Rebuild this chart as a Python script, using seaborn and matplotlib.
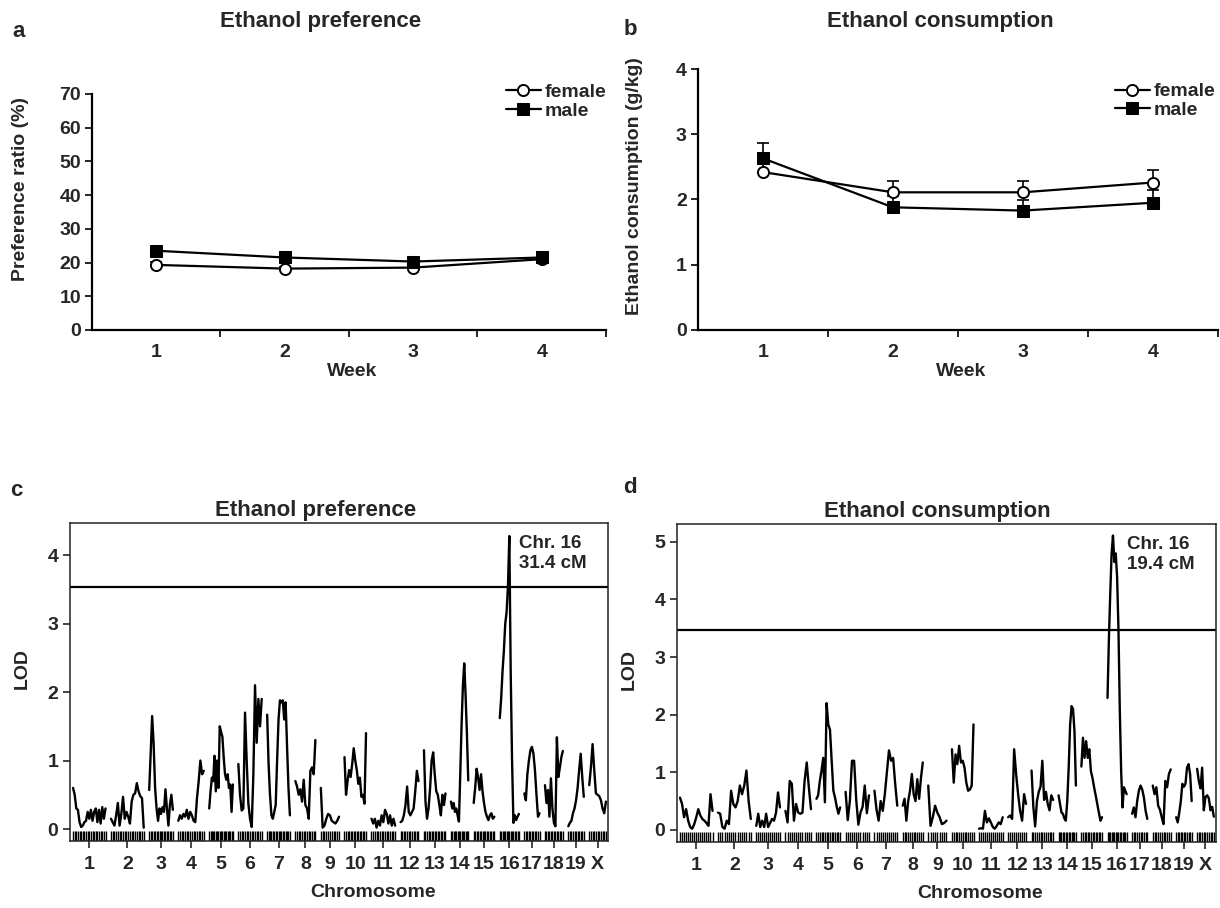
import numpy as np
import pandas as pd
import matplotlib
matplotlib.use('Agg')
import matplotlib.pyplot as plt
import seaborn as sns

# ---------- STYLE ----------
sns.set_style('ticks')
plt.rcParams['font.family'] = ['Liberation Sans', 'DejaVu Sans']
plt.rcParams['font.weight'] = 'bold'
plt.rcParams['axes.labelweight'] = 'bold'

# ---------- DATA: weekly drinking ----------
weeks = [1, 2, 3, 4]
pref_female = [19.3, 18.2, 18.5, 21.0]
pref_male = [23.5, 21.5, 20.3, 21.5]
pref_female_err = [0.8, 0.6, 0.6, 0.9]
pref_male_err = [1.0, 0.8, 0.7, 1.2]

cons_female = [2.42, 2.11, 2.11, 2.26]
cons_male = [2.63, 1.88, 1.83, 1.95]
cons_female_err = [0.15, 0.17, 0.18, 0.19]
cons_male_err = [0.24, 0.17, 0.16, 0.19]

# ---------- DATA: genome scans ----------
chrom_names = ['1', '2', '3', '4', '5', '6', '7', '8', '9', '10',
               '11', '12', '13', '14', '15', '16', '17', '18', '19', 'X']
chrom_len = [107, 108, 78, 84, 78, 77, 75, 66, 60, 71,
             78, 59, 71, 57, 68, 63, 50, 59, 51, 55]  # cM
gap = 18

lod_pref = [
    [0.6, 0.5, 0.3, 0.28, 0.1, 0.03, 0.05, 0.1, 0.12, 0.25, 0.15, 0.28, 0.12, 0.25, 0.3, 0.1, 0.28, 0.08, 0.32, 0.15, 0.3],
    [0.15, 0.1, 0.05, 0.2, 0.38, 0.05, 0.22, 0.47, 0.15, 0.25, 0.18, 0.08, 0.4, 0.5, 0.52, 0.67, 0.55, 0.48, 0.45, 0.02],
    [0.57, 1.1, 1.65, 1.25, 0.6, 0.3, 0.12, 0.3, 0.22, 0.32, 0.25, 0.58, 0.3, 0.05, 0.35, 0.5, 0.28],
    [0.12, 0.2, 0.15, 0.22, 0.18, 0.28, 0.15, 0.25, 0.2, 0.12, 0.1, 0.45, 0.7, 1.0, 0.8, 0.85],
    [0.3, 0.55, 0.75, 0.7, 1.07, 0.55, 1.0, 0.6, 1.5, 1.42, 1.35, 1.05, 0.8, 0.72, 0.8, 0.6, 0.65, 0.25, 0.65],
    [0.95, 0.5, 0.27, 0.3, 1.7, 1.0, 0.37, 0.15, 0.03, 0.8, 2.1, 1.26, 1.9, 1.5, 1.9],
    [1.67, 0.95, 0.5, 0.2, 0.15, 0.25, 0.35, 1.0, 1.6, 1.88, 1.85, 1.88, 1.6, 1.85, 1.2, 0.6, 0.2],
    [0.7, 0.62, 0.5, 0.58, 0.4, 0.72, 0.35, 0.3, 0.15, 0.85, 0.9, 0.8, 1.3],
    [0.6, 0.02, 0.05, 0.15, 0.22, 0.2, 0.12, 0.1, 0.08, 0.12, 0.18],
    [1.05, 0.5, 0.7, 0.86, 0.76, 0.95, 1.18, 1.0, 0.86, 0.66, 0.75, 0.47, 0.5, 0.37, 1.4],
    [0.15, 0.08, 0.15, 0.02, 0.12, 0.05, 0.2, 0.1, 0.28, 0.22, 0.08, 0.2, 0.05, 0.15, 0.05],
    [0.1, 0.12, 0.2, 0.35, 0.62, 0.25, 0.2, 0.25, 0.3, 0.55, 0.85, 0.7],
    [1.15, 0.4, 0.15, 0.3, 0.6, 1.0, 1.12, 0.8, 0.55, 0.5, 0.35, 0.2, 0.5, 0.35, 0.52],
    [0.4, 0.3, 0.38, 0.25, 0.3, 0.2, 0.11, 0.8, 1.53, 2.1, 2.42, 1.96, 1.4, 0.71],
    [0.38, 0.6, 0.88, 0.75, 0.57, 0.8, 0.55, 0.38, 0.25, 0.18, 0.13, 0.2, 0.23, 0.15, 0.18],
    [1.62, 1.9, 2.3, 2.6, 3.0, 3.17, 3.55, 4.28, 2.3, 1.0, 0.09, 0.2, 0.13, 0.18, 0.22],
    [0.52, 0.42, 0.8, 1.0, 1.15, 1.2, 1.1, 0.86, 0.5, 0.18, 0.23],
    [0.64, 0.38, 0.57, 0.18, 0.74, 0.3, 0.09, 0.04, 1.34, 0.76, 0.9, 1.05, 1.14],
    [0.04, 0.09, 0.12, 0.23, 0.3, 0.42, 0.6, 0.86, 1.1, 0.76, 0.47],
    [0.64, 0.9, 1.24, 0.86, 0.52, 0.5, 0.48, 0.42, 0.3, 0.23, 0.4],
]

lod_cons = [
    [0.56, 0.45, 0.22, 0.36, 0.16, 0.05, 0.02, 0.1, 0.22, 0.36, 0.25, 0.19, 0.16, 0.12, 0.07, 0.62, 0.33],
    [0.3, 0.28, 0.05, 0.02, 0.16, 0.1, 0.68, 0.45, 0.39, 0.5, 0.77, 0.62, 0.77, 1.03, 0.5, 0.19],
    [0.07, 0.28, 0.05, 0.16, 0.05, 0.28, 0.05, 0.12, 0.19, 0.16, 0.3, 0.65, 0.39],
    [0.33, 0.13, 0.85, 0.8, 0.16, 0.45, 0.3, 0.28, 0.3, 0.85, 1.17, 0.74, 0.36],
    [0.54, 0.6, 0.85, 1.03, 1.25, 0.48, 2.2, 1.83, 1.74, 1.2, 0.68, 0.56, 0.4, 0.28, 0.39],
    [0.66, 0.17, 0.5, 1.2, 1.2, 0.52, 0.09, 0.3, 0.4, 0.77, 0.29, 0.6],
    [0.68, 0.35, 0.16, 0.5, 0.33, 0.62, 1.0, 1.38, 1.2, 1.25, 0.8, 0.42],
    [0.42, 0.54, 0.16, 0.5, 0.68, 0.97, 0.62, 0.5, 0.88, 0.54, 0.9, 1.17],
    [0.77, 0.07, 0.22, 0.42, 0.3, 0.22, 0.1, 0.12, 0.16],
    [1.4, 0.82, 1.31, 1.14, 1.46, 1.17, 1.2, 1.08, 0.82, 0.68, 0.7, 0.77, 1.83],
    [0.02, 0.03, 0.02, 0.33, 0.13, 0.2, 0.13, 0.05, 0.02, 0.07, 0.13, 0.1, 0.22],
    [0.22, 0.25, 0.19, 1.4, 0.97, 0.62, 0.33, 0.16, 0.62, 0.45],
    [1.03, 0.4, 0.06, 0.5, 0.66, 0.75, 1.2, 0.52, 0.66, 0.45, 0.34, 0.6, 0.52],
    [0.6, 0.45, 0.3, 0.28, 0.2, 0.16, 0.5, 1.08, 1.83, 2.15, 2.1, 1.72, 0.77],
    [1.1, 1.6, 1.25, 1.54, 1.25, 1.4, 1.02, 0.9, 0.74, 0.6, 0.45, 0.3, 0.16, 0.22],
    [2.29, 3.3, 4.1, 4.8, 5.11, 4.65, 4.8, 4.4, 3.5, 2.06, 1.0, 0.39, 0.74, 0.68, 0.62],
    [0.28, 0.39, 0.22, 0.5, 0.68, 0.77, 0.7, 0.56, 0.33, 0.19],
    [0.77, 0.62, 0.74, 0.42, 0.35, 0.22, 0.1, 0.85, 0.74, 0.97, 1.05],
    [0.22, 0.13, 0.3, 0.5, 0.8, 0.75, 0.8, 1.08, 1.14, 0.97, 0.5],
    [1.06, 0.85, 0.72, 1.08, 0.34, 0.57, 0.6, 0.55, 0.34, 0.4, 0.23],
]

threshold_pref = 3.54
threshold_cons = 3.47

# chromosome start positions on the concatenated axis
chrom_start = np.concatenate([[0], np.cumsum(np.array(chrom_len[:-1]) + gap)])
chrom_mid = chrom_start + np.array(chrom_len) / 2
genome_end = chrom_start[-1] + chrom_len[-1]


def scan_frame(lods):
    rows = []
    for name, start, length, vals in zip(chrom_names, chrom_start, chrom_len, lods):
        pos = start + np.linspace(0, length, len(vals))
        for p, v in zip(pos, vals):
            rows.append((name, p, v))
    return pd.DataFrame(rows, columns=['chrom', 'pos', 'lod'])


# ---------- FIGURE ----------
fig = plt.figure(figsize=(12.2, 9.08), dpi=100)
ax_a = fig.add_axes([0.0754, 0.6366, 0.4213, 0.2599])
ax_b = fig.add_axes([0.5721, 0.6366, 0.4262, 0.2874])
ax_c = fig.add_axes([0.0574, 0.0738, 0.4410, 0.3502])
ax_d = fig.add_axes([0.5549, 0.0727, 0.4418, 0.3502])


def week_panel(ax, fem, male, fem_err, male_err, ylim, yticks, ylabel, xlab_y, ylab_xy, leg_anchor):
    ax.errorbar(weeks, fem, yerr=[[0] * 4, fem_err], fmt='none', ecolor='black',
                elinewidth=1.2, capsize=4, capthick=1.2, zorder=1)
    ax.errorbar(weeks, male, yerr=[[0] * 4, male_err], fmt='none', ecolor='black',
                elinewidth=1.2, capsize=4, capthick=1.2, zorder=1)
    sns.lineplot(x=weeks, y=fem, ax=ax, color='black', lw=1.6, marker='o', markersize=8,
                 markerfacecolor='white', markeredgecolor='black', markeredgewidth=1.4,
                 label='female', zorder=3)
    sns.lineplot(x=weeks, y=male, ax=ax, color='black', lw=1.6, marker='s', markersize=8,
                 markerfacecolor='black', markeredgecolor='black', label='male', zorder=3)
    ax.set_xlim(0.5, 4.5)
    ax.set_ylim(*ylim)
    ax.set_xticks(weeks)
    ax.set_xticks([1.5, 2.5, 3.5, 4.5], minor=True)
    ax.set_yticks(yticks)
    ax.tick_params(axis='x', which='major', length=0, pad=10, labelsize=14)
    ax.tick_params(axis='x', which='minor', length=5, width=1.4, direction='out')
    ax.tick_params(axis='y', length=5, width=1.4, direction='out', labelsize=14, pad=3)
    for lbl in ax.get_xticklabels() + ax.get_yticklabels():
        lbl.set_fontweight('bold')
    sns.despine(ax=ax)
    for s in ['left', 'bottom']:
        ax.spines[s].set_linewidth(1.6)
        ax.spines[s].set_color('black')
    ax.set_xlabel('Week', fontsize=14)
    ax.xaxis.set_label_coords(0.506, xlab_y)
    ax.set_ylabel(ylabel, fontsize=14)
    ax.yaxis.set_label_coords(*ylab_xy)
    ax.legend(loc='upper right', bbox_to_anchor=leg_anchor, frameon=False, fontsize=14,
              handlelength=1.8, handletextpad=0.2, labelspacing=0.05, borderaxespad=0)


week_panel(ax_a, pref_female, pref_male, pref_female_err, pref_male_err,
           (0, 70), range(0, 71, 10), 'Preference ratio (%)', -0.14, (-0.123, 0.597), (1.016, 1.077))
week_panel(ax_b, cons_female, cons_male, cons_female_err, cons_male_err,
           (0, 4), range(0, 5), 'Ethanol consumption (g/kg)', -0.126, (-0.106, 0.552), (1.01, 0.977))


def scan_panel(ax, lods, thr, ylim, yticks, label):
    df = scan_frame(lods)
    sns.lineplot(data=df, x='pos', y='lod', units='chrom', estimator=None, sort=False,
                 color='black', lw=1.7, ax=ax)
    sns.rugplot(x=df['pos'], height=0.03, color='black', lw=0.8, ax=ax)
    ax.axhline(thr, color='black', lw=1.6)
    ax.set_xlim(-10, genome_end + 7)
    ax.set_ylim(*ylim)
    ax.set_yticks(yticks)
    ax.set_xticks(chrom_mid)
    ax.set_xticklabels(chrom_names)
    ax.tick_params(axis='both', length=5, width=1.2, direction='out', labelsize=14)
    ax.tick_params(axis='x', pad=6)
    for lbl in ax.get_xticklabels() + ax.get_yticklabels():
        lbl.set_fontweight('bold')
    for s in ax.spines.values():
        s.set_linewidth(1.1)
        s.set_color('#222222')
    ax.set_xlabel('Chromosome', fontsize=14)
    ax.xaxis.set_label_coords(0.563, -0.135)
    ax.set_ylabel('LOD', fontsize=14)
    ax.yaxis.set_label_coords(-0.073, 0.544)
    ax.text(0.834, 0.962, label, transform=ax.transAxes, ha='left', va='top',
            fontsize=13.5, fontweight='bold', linespacing=1.25)


scan_panel(ax_c, lod_pref, threshold_pref, (-0.175, 4.47), range(0, 5), 'Chr. 16\n31.4 cM')
scan_panel(ax_d, lod_cons, threshold_cons, (-0.21, 5.31), range(0, 6), 'Chr. 16\n19.4 cM')

# ---------- TITLES & PANEL LETTERS ----------
fig.text(0.263, 0.976, 'Ethanol preference', ha='center', va='center', fontsize=16, fontweight='bold')
fig.text(0.771, 0.976, 'Ethanol consumption', ha='center', va='center', fontsize=16, fontweight='bold')
fig.text(0.259, 0.438, 'Ethanol preference', ha='center', va='center', fontsize=16, fontweight='bold')
fig.text(0.768, 0.437, 'Ethanol consumption', ha='center', va='center', fontsize=16, fontweight='bold')
fig.text(0.0156, 0.965, 'a', ha='center', va='center', fontsize=16, fontweight='bold')
fig.text(0.517, 0.967, 'b', ha='center', va='center', fontsize=16, fontweight='bold')
fig.text(0.013, 0.460, 'c', ha='center', va='center', fontsize=16, fontweight='bold')
fig.text(0.516, 0.4626, 'd', ha='center', va='center', fontsize=16, fontweight='bold')

fig.savefig('out.png', dpi=100)
